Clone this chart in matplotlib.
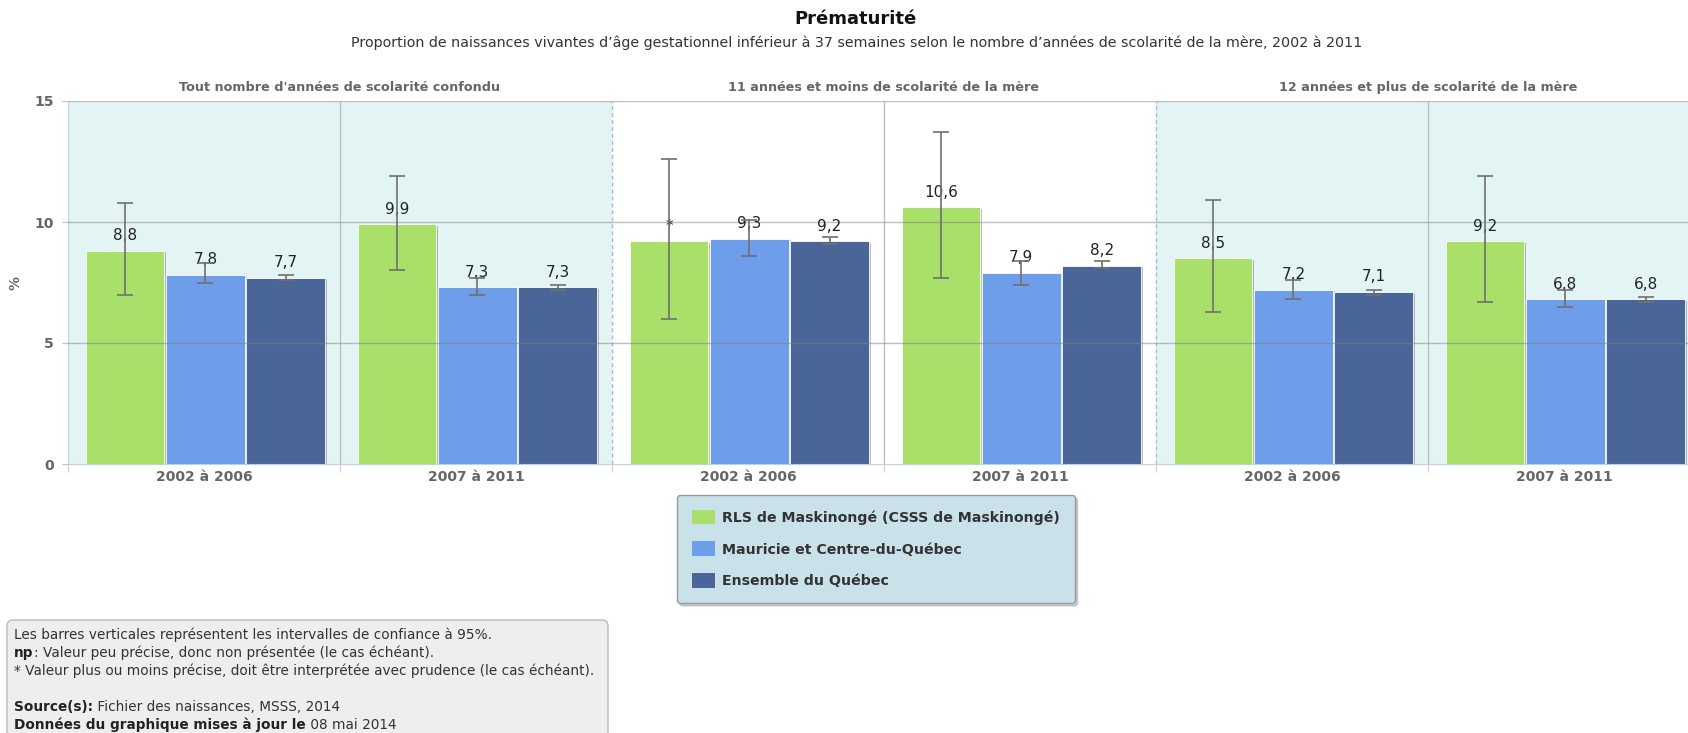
import matplotlib
matplotlib.use('Agg')
import matplotlib.pyplot as plt
import numpy as np
from matplotlib.patches import Patch, FancyBboxPatch
from matplotlib.transforms import IdentityTransform
import matplotlib.patheffects as pe

plt.rcParams['font.family'] = ['DejaVu Sans']

# ---------------- data ----------------
title = "Prématurité"
subtitle = ("Proportion de naissances vivantes d\u2019âge gestationnel inférieur à 37 semaines "
            "selon le nombre d\u2019années de scolarité de la mère, 2002 à 2011")
panels = ["Tout nombre d'années de scolarité confondu",
          "11 années et moins de scolarité de la mère",
          "12 années et plus de scolarité de la mère"]
periods = ["2002 à 2006", "2007 à 2011"]
series_names = ["RLS de Maskinongé (CSSS de Maskinongé)",
                "Mauricie et Centre-du-Québec",
                "Ensemble du Québec"]

rls = [8.8, 9.9, 9.2, 10.6, 8.5, 9.2]
rls_lo = [7.0, 8.0, 6.0, 7.7, 6.3, 6.7]
rls_hi = [10.8, 11.9, 12.6, 13.7, 10.9, 11.9]
rls_flag = ["", "", "*", "", "", ""]

mcq = [7.8, 7.3, 9.3, 7.9, 7.2, 6.8]
mcq_lo = [7.5, 7.0, 8.6, 7.4, 6.8, 6.5]
mcq_hi = [8.3, 7.7, 10.1, 8.4, 7.6, 7.2]

qc = [7.7, 7.3, 9.2, 8.2, 7.1, 6.8]
qc_lo = [7.6, 7.2, 9.1, 8.1, 7.0, 6.7]
qc_hi = [7.8, 7.4, 9.4, 8.4, 7.2, 6.9]

y_ticks = [0, 5, 10, 15]
y_label = "%"

footnote_lines = [
    ("", "Les barres verticales représentent les intervalles de confiance à 95%."),
    ("np", ": Valeur peu précise, donc non présentée (le cas échéant)."),
    ("", "* Valeur plus ou moins précise, doit être interprétée avec prudence (le cas échéant)."),
    ("", ""),
    ("Source(s):", " Fichier des naissances, MSSS, 2014"),
    ("Données du graphique mises à jour le", " 08 mai 2014"),
]

colors = ["#A9E06A", "#6E9DEA", "#4A6597"]
panel_bg = ["#E3F4F5", "#FFFFFF", "#E3F4F5"]

# ---------------- figure ----------------
W, H, DPI = 1688, 733, 100
fig = plt.figure(figsize=(W / DPI, H / DPI), dpi=DPI)
ax_left, ax_right = 68, 1700
ax_top, ax_bottom = 101, 464
ax = fig.add_axes([ax_left / W, 1 - ax_bottom / H, (ax_right - ax_left) / W, (ax_bottom - ax_top) / H])
ax.set_xlim(0, len(panels) * len(periods))
ax.set_ylim(0, 15)

# panel backgrounds
for p, bg in enumerate(panel_bg):
    ax.axvspan(p * 2, p * 2 + 2, color=bg, zorder=0, lw=0)

# grid lines
for yv in y_ticks[1:]:
    ax.axhline(yv, color="#808080", alpha=0.5, lw=1, zorder=3)
for p in range(len(panels)):
    ax.axvline(p * 2 + 1, color="#C0C0C0", lw=1, zorder=1)
    if p > 0:
        ax.axvline(p * 2, color="#A8BCD4", lw=1, ls=(0, (3, 2)), zorder=1)

n = len(rls)
centers = np.arange(n) + 0.505
offsets = [-0.295, 0.0, 0.295]
bw = 0.288
all_vals = [rls, mcq, qc]
all_lo = [rls_lo, mcq_lo, qc_lo]
all_hi = [rls_hi, mcq_hi, qc_hi]
shadow = [pe.SimplePatchShadow(offset=(1.5, -1.0), alpha=0.25, shadow_rgbFace="#000000"), pe.Normal()]

for s in range(3):
    vals = np.array(all_vals[s])
    lo = np.array(all_lo[s])
    hi = np.array(all_hi[s])
    xs = centers + offsets[s]
    bars = ax.bar(xs, vals, width=bw, color=colors[s], edgecolor="#FFFFFF", linewidth=0.6,
                  zorder=2, label=series_names[s])
    for b in bars:
        b.set_path_effects(shadow)
    for i, (x, v) in enumerate(zip(xs, vals)):
        if s == 0 and rls_flag[i]:
            lab = rls_flag[i]
        else:
            lab = f"{v:.1f}".replace(".", ",")
        ax.annotate(lab, (x, v), xytext=(0, 11), textcoords="offset points",
                    ha="center", va="center", fontsize=11, color="#222222", zorder=4)
    ax.errorbar(xs, vals, yerr=[vals - lo, hi - vals], fmt="none", ecolor="#707070",
                elinewidth=1.2, capsize=6, capthick=1.2, zorder=5)

# axes styling
for sp in ["top", "right"]:
    ax.spines[sp].set_visible(False)
ax.spines["left"].set_color("#C0D0E0")
ax.spines["bottom"].set_color("#C0D0E0")
ax.spines["bottom"].set_zorder(6)
ax.axhline(15, color="#C0C0C0", lw=1.2, zorder=3)

ax.set_yticks(y_ticks)
ax.set_yticklabels([str(t) for t in y_ticks], fontsize=10, fontweight="bold", color="#666666")
ax.tick_params(axis="y", length=4, color="#C0C0C0", pad=6)

ax.set_xticks(np.arange(0, n + 1))
ax.set_xticklabels([])
ax.tick_params(axis="x", which="major", length=6, color="#C0D0E0", direction="out")
ax.set_xticks(np.arange(n) + 0.5, minor=True)
ax.set_xticklabels(periods * len(panels), minor=True, fontsize=10, fontweight="bold", color="#666666")
ax.tick_params(axis="x", which="minor", length=0, pad=4)

ax.set_ylabel(y_label, fontsize=10, fontweight="bold", color="#666666")
ax.yaxis.set_label_coords(-0.028, 0.5)

for p, name in enumerate(panels):
    ax.annotate(name, (p * 2 + 1, 1), xycoords=("data", "axes fraction"), xytext=(0, 10),
                textcoords="offset points", ha="center", va="center", fontsize=9.2,
                fontweight="bold", color="#666666")

# titles
fig.text(856 / W, 1 - 19 / H, title, ha="center", va="center", fontsize=13, fontweight="bold", color="#111111")
fig.text(857 / W, 1 - 43 / H, subtitle, ha="center", va="center", fontsize=10.3, color="#333333")

# legend
handles = [Patch(facecolor=c, edgecolor="none") for c in colors]
leg = fig.legend(handles, series_names, loc="upper left", bbox_to_anchor=(677 / W, 1 - 495 / H),
                 borderaxespad=0, frameon=True, fancybox=True,
                 shadow={"color": "#888888", "alpha": 0.4, "ox": 2, "oy": -2},
                 facecolor="#C9E2EA", edgecolor="#999999", framealpha=1,
                 prop={"weight": "bold", "size": 10.2}, labelcolor="#333333",
                 handlelength=1.62, handleheight=1.2, handletextpad=0.5,
                 labelspacing=1.17, borderpad=1.05)

# footnote box
box = FancyBboxPatch((7, -10), 601, H - 620 + 10, boxstyle="round,pad=0,rounding_size=6",
                     transform=IdentityTransform(), facecolor="#EEEEEE", edgecolor="#BBBBBB",
                     lw=1, clip_on=False)
fig.patches.append(box)

renderer = fig.canvas.get_renderer()
line_y = [639, 657, 675, 693, 711, 729]
fs_note = 9.8
for (bold, rest), yy in zip(footnote_lines, line_y):
    if not bold and not rest:
        continue
    x0 = 14 / W
    if bold:
        t1 = fig.text(x0, 1 - yy / H, bold, ha="left", va="baseline", fontsize=fs_note,
                      fontweight="bold", color="#222222")
        bb = t1.get_window_extent(renderer)
        fig.text(bb.x1 / W, 1 - yy / H, rest, ha="left", va="baseline", fontsize=fs_note,
                 color="#333333")
    else:
        fig.text(x0, 1 - yy / H, rest, ha="left", va="baseline", fontsize=fs_note, color="#333333")

fig.savefig("out.png", dpi=DPI)
